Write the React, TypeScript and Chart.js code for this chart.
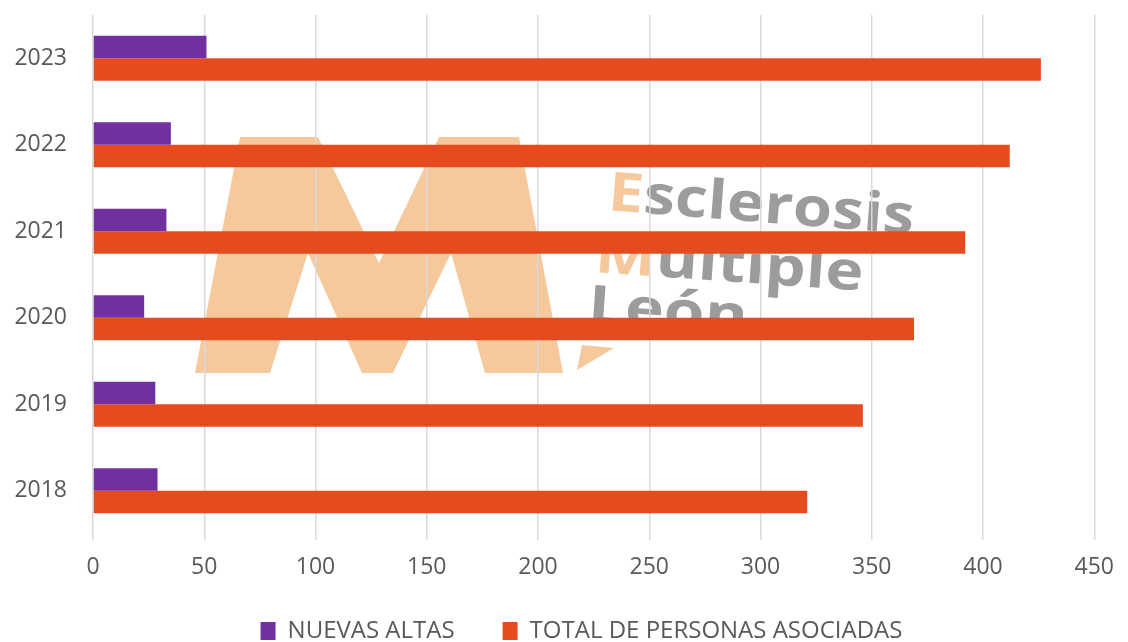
import React, { useEffect, useRef } from "react";
import { Chart, registerables } from "chart.js";

Chart.register(...registerables);

const years = ["2023", "2022", "2021", "2020", "2019", "2018"];
const nuevasAltas = [51, 35, 33, 23, 28, 29];
const totalAsociadas = [426, 412, 392, 369, 346, 321];
const seriesNames = ["NUEVAS ALTAS", "TOTAL DE PERSONAS ASOCIADAS"];
const xMin = 0;
const xMax = 450;
const xStep = 50;

const PURPLE = "#7030A0";
const ORANGE = "#E54B1E";
const TEXT = "#595959";
const GRID = "#D9D9D9";
const LOGO_PEACH = "#F5C99C";
const LOGO_GRAY = "#9C9C9C";

// decorative watermark (logo) drawn behind the grid
const logoPlugin = {
  id: "logoWatermark",
  afterLayout(chart: any) {
    // place the legend under the plot like the reference
    const lg = chart.legend;
    if (lg) {
      lg.left += 62;
      lg.top -= 9;
      lg.bottom -= 9;
    }
  },
  beforeDraw(chart: any) {
    const ctx: CanvasRenderingContext2D = chart.ctx;
    ctx.save();
    ctx.fillStyle = LOGO_PEACH;
    const mShape = [
      [195, 373], [240, 137], [318, 137], [379, 263], [439, 137], [519, 137],
      [563, 373], [485, 373], [451, 253], [393, 373], [362, 373], [308, 253], [270, 373],
    ];
    ctx.beginPath();
    mShape.forEach(([x, y], i) => (i === 0 ? ctx.moveTo(x, y) : ctx.lineTo(x, y)));
    ctx.closePath();
    ctx.fill();
    ctx.beginPath();
    ctx.moveTo(577, 370);
    ctx.lineTo(614, 348);
    ctx.lineTo(582, 345);
    ctx.closePath();
    ctx.fill();

    const word = (parts: [string, string][], x: number, y: number, deg: number, width: number) => {
      ctx.save();
      ctx.translate(x, y);
      ctx.rotate((deg * Math.PI) / 180);
      ctx.font = 'bold 54px "Open Sans"';
      ctx.textBaseline = "alphabetic";
      ctx.textAlign = "left";
      const total = parts.reduce((s, p) => s + ctx.measureText(p[0]).width, 0);
      ctx.scale(width / total, 1);
      let cx = 0;
      parts.forEach(([t, c]) => {
        ctx.fillStyle = c;
        ctx.fillText(t, cx, 0);
        cx += ctx.measureText(t).width;
      });
      ctx.restore();
    };
    word([["E", LOGO_PEACH], ["sclerosis", LOGO_GRAY]], 607, 210, 4.5, 307);
    word([["M", LOGO_PEACH], ["ultiple", LOGO_GRAY]], 594, 272, 4, 269);
    word([["León", LOGO_GRAY]], 587, 323, 4, 160);
    ctx.restore();
  },
};

export default function App() {
  const canvasRef = useRef<HTMLCanvasElement | null>(null);

  useEffect(() => {
    document.body.style.margin = "0";
    const canvas = canvasRef.current;
    if (!canvas) return;
    const chart = new Chart(canvas, {
      type: "bar",
      data: {
        labels: years,
        datasets: [
          {
            label: seriesNames[0],
            data: nuevasAltas,
            backgroundColor: PURPLE,
            borderWidth: 0,
            barPercentage: 1,
            categoryPercentage: 0.52,
          },
          {
            label: seriesNames[1],
            data: totalAsociadas,
            backgroundColor: ORANGE,
            borderWidth: 0,
            barPercentage: 1,
            categoryPercentage: 0.52,
          },
        ],
      },
      options: {
        indexAxis: "y",
        responsive: false,
        animation: false,
        layout: { padding: { top: 15, right: 27, bottom: -20, left: 0 } },
        plugins: {
          tooltip: { enabled: false },
          legend: {
            position: "bottom",
            labels: {
              color: TEXT,
              font: { family: '"Open Sans"', size: 24 },
              boxWidth: 15,
              boxHeight: 18,
              padding: 48,
            },
          },
        },
        scales: {
          x: {
            min: xMin,
            max: xMax,
            ticks: {
              stepSize: xStep,
              color: TEXT,
              font: { family: '"Open Sans"', size: 23 },
              padding: 14,
            },
            grid: { color: GRID, lineWidth: 1.5, tickLength: 6, drawTicks: true },
            border: { display: false },
            afterFit: (scale: any) => {
              scale.height = 46;
            },
          },
          y: {
            ticks: {
              color: TEXT,
              font: { family: '"Open Sans"', size: 23 },
              padding: 26,
            },
            grid: { display: false, drawTicks: false },
            border: { display: false },
            afterFit: (scale: any) => {
              scale.width = 93;
              scale.paddingTop = 0;
              scale.paddingBottom = 0;
            },
          },
        },
      },
      plugins: [logoPlugin],
    });
    return () => chart.destroy();
  }, []);

  return (
    <div style={{ width: 1128, height: 642, background: "#fff" }}>
      <canvas ref={canvasRef} width={1128} height={642} />
    </div>
  );
}
